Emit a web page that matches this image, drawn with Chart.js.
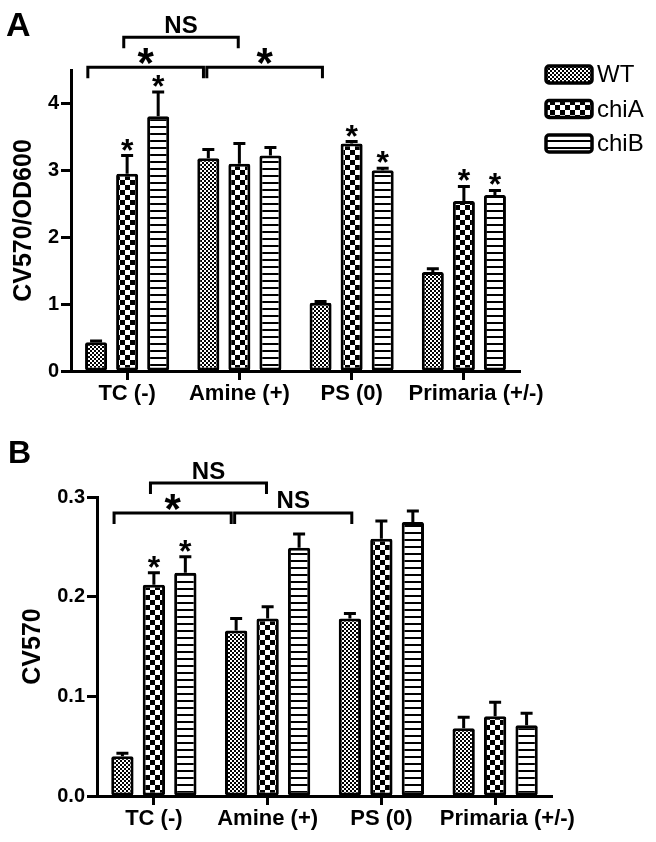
<!DOCTYPE html>
<html><head><meta charset="utf-8">
<script src="https://cdn.jsdelivr.net/npm/chart.js@4.4.0/dist/chart.umd.min.js"></script>
<style>
html,body{margin:0;padding:0;background:#fff;width:656px;height:842px;overflow:hidden}
canvas{position:absolute;left:0}
#cA{top:0}
#cB{top:420px}
</style></head><body>
<canvas id="cA" width="656" height="420"></canvas>
<canvas id="cB" width="656" height="422"></canvas>
<script>
// ---------- data ----------
const categories = ['TC (-)', 'Amine (+)', 'PS (0)', 'Primaria (+/-)'];
const seriesNames = ['WT', 'chiA', 'chiB'];

// Panel A : CV570/OD600
const aWT   = [0.43, 3.18, 1.02, 1.48];
const aChiA = [2.95, 3.10, 3.40, 2.54];
const aChiB = [3.81, 3.22, 3.00, 2.63];
const aErrWT   = [0.02, 0.13, 0.02, 0.05];
const aErrChiA = [0.27, 0.30, 0.03, 0.22];
const aErrChiB = [0.36, 0.12, 0.03, 0.07];
const aSigWT   = ['', '', '', ''];
const aSigChiA = ['*', '', '*', '*'];
const aSigChiB = ['*', '', '*', '*'];
const aYTicks  = [0, 1, 2, 3, 4];
const aYLabels = ['0', '1', '2', '3', '4'];
const aYMax = 4.5;
// comparison brackets: from/to in category units, level in data units
const aBrFrom  = [-0.35, 0.71, -0.03];
const aBrTo    = [0.68, 1.74, 0.99];
const aBrLevel = [4.54, 4.54, 4.99];
const aBrText  = ['*', '*', 'NS'];

// Panel B : CV570
const bWT   = [0.040, 0.166, 0.178, 0.068];
const bChiA = [0.212, 0.178, 0.258, 0.080];
const bChiB = [0.224, 0.249, 0.275, 0.071];
const bErrWT   = [0.003, 0.012, 0.005, 0.011];
const bErrChiA = [0.012, 0.012, 0.018, 0.014];
const bErrChiB = [0.016, 0.014, 0.011, 0.012];
const bSigWT   = ['', '', '', ''];
const bSigChiA = ['*', '', '', ''];
const bSigChiB = ['*', '', '', ''];
const bYTicks  = [0, 0.1, 0.2, 0.3];
const bYLabels = ['0.0', '0.1', '0.2', '0.3'];
const bYMax = 0.3;
const bBrFrom  = [-0.35, 0.71, -0.03];
const bBrTo    = [0.68, 1.74, 0.99];
const bBrLevel = [0.284, 0.284, 0.314];
const bBrText  = ['*', 'NS', 'NS'];

// ---------- styling ----------
const FAM = '"Liberation Sans", Arial, Helvetica, sans-serif';
Chart.defaults.font.family = FAM;
Chart.defaults.color = '#000';

function makePattern(kind){
  const c = document.createElement('canvas');
  const x = c.getContext('2d');
  if (kind === 'WT'){
    c.width = c.height = 4;
    x.fillStyle = '#fff'; x.fillRect(0,0,4,4);
    x.fillStyle = '#000'; x.fillRect(0,0,2,2); x.fillRect(2,2,2,2);
  } else if (kind === 'chiA'){
    c.width = c.height = 10;
    x.fillStyle = '#fff'; x.fillRect(0,0,10,10);
    x.fillStyle = '#000'; x.fillRect(0,0,5,5); x.fillRect(5,5,5,5);
  } else {
    c.width = 7; c.height = 7;
    x.fillStyle = '#fff'; x.fillRect(0,0,7,7);
    x.fillStyle = '#000'; x.fillRect(0,0,7,2);
  }
  return x.createPattern(c, 'repeat');
}
const patterns = [makePattern('WT'), makePattern('chiA'), makePattern('chiB')];

function drawCentered(ctx, text, cx, cy, font){
  ctx.font = font;
  ctx.textAlign = 'center';
  ctx.textBaseline = 'alphabetic';
  const m = ctx.measureText(text);
  const base = cy + (m.actualBoundingBoxAscent - m.actualBoundingBoxDescent)/2;
  ctx.fillStyle = '#000';
  ctx.fillText(text, cx, base);
}

const annotPlugin = {
  id: 'annot',
  afterDatasetsDraw(chart, args, o){
    const ctx = chart.ctx, xs = chart.scales.x, ys = chart.scales.y;
    ctx.save();
    ctx.strokeStyle = '#000';
    ctx.lineWidth = 3;
    // error bars + significance stars
    o.errors.forEach((errs, di) => {
      const meta = chart.getDatasetMeta(di);
      meta.data.forEach((bar, i) => {
        const v = chart.data.datasets[di].data[i];
        const top = ys.getPixelForValue(v + errs[i]);
        ctx.beginPath();
        ctx.moveTo(bar.x, bar.y);
        ctx.lineTo(bar.x, top);
        ctx.moveTo(bar.x - 6, top);
        ctx.lineTo(bar.x + 6, top);
        ctx.stroke();
        const s = o.sig[di][i];
        if (s) drawCentered(ctx, s, bar.x, top - 11, o.starFont);
      });
    });
    // brackets
    o.brFrom.forEach((f, k) => {
      const x1 = xs.getPixelForValue(f), x2 = xs.getPixelForValue(o.brTo[k]);
      const yb = ys.getPixelForValue(o.brLevel[k]);
      ctx.beginPath();
      ctx.moveTo(x1, yb + 11);
      ctx.lineTo(x1, yb);
      ctx.lineTo(x2, yb);
      ctx.lineTo(x2, yb + 11);
      ctx.stroke();
      const t = o.brText[k];
      drawCentered(ctx, t, (x1 + x2)/2, yb - (t === '*' ? 11 : 13), t === '*' ? o.bigStarFont : o.nsFont);
    });
    // panel letter
    ctx.fillStyle = '#000';
    ctx.font = o.letterFont;
    ctx.textAlign = 'left';
    ctx.textBaseline = 'alphabetic';
    ctx.fillText(o.letter, o.letterX, o.letterY);
    // legend
    if (o.legend){
      seriesNames.forEach((name, i) => {
        const bx = 546, by = 66 + i*34.5, bw = 46, bh = 17;
        ctx.fillStyle = patterns[i];
        ctx.beginPath();
        ctx.roundRect(bx, by, bw, bh, 3);
        ctx.fill();
        ctx.lineWidth = 3.5;
        ctx.stroke();
        ctx.fillStyle = '#000';
        ctx.font = '24px ' + FAM;
        ctx.textAlign = 'left';
        ctx.textBaseline = 'middle';
        ctx.fillText(name, 597, by + bh/2 + 1);
      });
    }
    ctx.restore();
  }
};

function buildChart(id, vals, o){
  return new Chart(document.getElementById(id), {
    type: 'bar',
    data: {
      labels: categories,
      datasets: vals.map((d, i) => ({
        label: seriesNames[i],
        data: d,
        backgroundColor: patterns[i],
        borderColor: '#000',
        borderWidth: 3,
        borderRadius: 2,
        borderSkipped: false,
        categoryPercentage: 0.83,
        barPercentage: 0.71
      }))
    },
    options: {
      responsive: false,
      animation: false,
      devicePixelRatio: 1,
      layout: { padding: o.padding },
      plugins: {
        legend: { display: false },
        tooltip: { enabled: false },
        annot: o.annot
      },
      scales: {
        x: {
          offset: true,
          grid: { offset: false, drawOnChartArea: false, tickLength: 9, tickWidth: 3, tickColor: '#000' },
          border: { color: '#000', width: 3 },
          ticks: {
            font: { size: 22, weight: 'bold' }, color: '#000', padding: 1, maxRotation: 0, autoSkip: false,
            callback: (v, i) => (i === categories.length - 1 ? '    ' : '') + categories[i]
          },
          afterFit: s => { s.height = o.xHeight; }
        },
        y: {
          min: 0, max: o.yMax,
          grid: { drawOnChartArea: false, tickLength: 10, tickWidth: 3, tickColor: '#000' },
          border: { color: '#000', width: 3 },
          ticks: {
            font: { size: 20, weight: 'bold' }, color: '#000', padding: 2,
            callback: (v) => { const k = o.yTicks.findIndex(t => Math.abs(t - v) < 1e-9); return k >= 0 ? o.yLabels[k] : ''; }
          },
          afterBuildTicks: s => { s.ticks = o.yTicks.map(v => ({ value: v })); },
          title: { display: true, text: o.yTitle, font: { size: 25, weight: 'bold' }, color: '#000', padding: { top: o.titlePad, bottom: 0 } },
          afterFit: s => { s.width = o.yWidth; }
        }
      }
    },
    plugins: [annotPlugin]
  });
}

buildChart('cA', [aWT, aChiA, aChiB], {
  padding: { left: 0, top: 70, right: 136, bottom: 0 },
  xHeight: 49, yWidth: 71, yMax: aYMax, yTicks: aYTicks, yLabels: aYLabels,
  yTitle: 'CV570/OD600', titlePad: 9,
  annot: {
    errors: [aErrWT, aErrChiA, aErrChiB], sig: [aSigWT, aSigChiA, aSigChiB],
    brFrom: aBrFrom, brTo: aBrTo, brLevel: aBrLevel, brText: aBrText,
    starFont: 'bold 32px ' + FAM, bigStarFont: 'bold 42px ' + FAM, nsFont: 'bold 24px ' + FAM,
    letter: 'A', letterFont: 'bold 34px ' + FAM, letterX: 6, letterY: 36, legend: true
  }
});

buildChart('cB', [bWT, bChiA, bChiB], {
  padding: { left: 0, top: 77, right: 104, bottom: 0 },
  xHeight: 46, yWidth: 97, yMax: bYMax, yTicks: bYTicks, yLabels: bYLabels,
  yTitle: 'CV570', titlePad: 18,
  annot: {
    errors: [bErrWT, bErrChiA, bErrChiB], sig: [bSigWT, bSigChiA, bSigChiB],
    brFrom: bBrFrom, brTo: bBrTo, brLevel: bBrLevel, brText: bBrText,
    starFont: 'bold 32px ' + FAM, bigStarFont: 'bold 42px ' + FAM, nsFont: 'bold 24px ' + FAM,
    letter: 'B', letterFont: 'bold 32px ' + FAM, letterX: 8, letterY: 43, legend: false
  }
});
</script>
</body></html>
